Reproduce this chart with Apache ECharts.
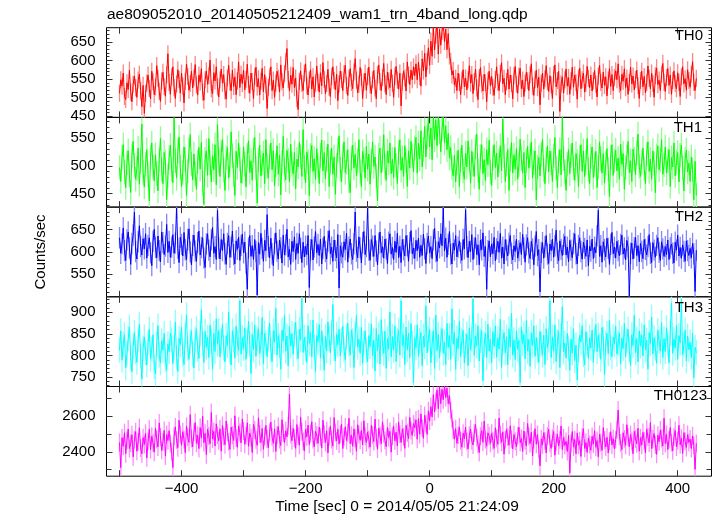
<!DOCTYPE html>
<html><head><meta charset="utf-8">
<script src="https://cdn.jsdelivr.net/npm/echarts@6/dist/echarts.min.js"></script>
<style>html,body{margin:0;padding:0;background:#fff}#c{width:717px;height:516px}</style>
</head><body><div id="c"></div>
<script>
// time bins: start and width (sec)
const binStart = -500, binWidth = 2;
const bandNames = ['TH0','TH1','TH2','TH3','TH0123'];
const title = 'ae809052010_20140505212409_wam1_trn_4band_long.qdp';
const xTitle = 'Time [sec] 0 = 2014/05/05 21:24:09';
const yTitle = 'Counts/sec';

const th0 = [
512,548,531,566,503,495,540,522,574,515,489,536,558,527,501,547,563,519,476,533,
458,512,539,561,525,497,571,543,508,529,586,552,517,490,545,568,530,504,562,618,
541,509,556,583,527,498,537,575,549,512,566,531,486,544,590,557,520,538,571,526,
553,589,534,507,561,542,578,515,493,548,572,536,559,601,524,511,567,545,583,529,
502,548,577,539,562,518,496,553,587,541,519,574,530,556,508,545,596,527,563,538,
574,521,549,590,535,512,566,543,498,557,582,529,551,507,544,579,516,562,534,471,
528,556,583,519,547,501,539,571,552,515,588,543,526,564,597,632,549,518,560,536,
581,527,553,497,468,544,572,538,519,566,591,532,507,548,575,523,556,502,539,585,
541,515,567,532,594,549,511,538,576,528,503,557,583,546,521,563,492,537,572,548,
519,564,587,533,506,552,578,541,524,569,605,547,513,536,581,555,498,542,566,520,
557,582,534,511,548,573,526,497,562,588,543,519,554,592,537,508,569,545,527,576,
539,501,558,584,547,523,566,478,542,571,553,518,596,561,535,574,548,583,559,591,
548,596,557,531,604,572,619,556,598,634,587,652,611,690,628,668,702,617,684,641,
678,702,651,684,629,672,612,598,561,573,534,552,519,566,541,508,547,575,529,553,
521,548,586,539,562,511,543,577,526,495,554,581,537,518,563,540,489,545,571,532,
557,528,506,549,583,541,519,565,594,537,552,508,543,576,523,561,538,497,559,584,
536,512,558,579,524,547,503,539,568,545,519,562,591,531,506,548,574,527,555,481,
539,566,523,551,586,542,517,559,534,498,563,588,529,546,571,463,537,556,512,548,
577,531,554,509,545,582,528,561,540,496,553,579,524,548,566,515,539,584,552,527,
561,518,545,573,536,502,558,587,541,526,569,533,556,505,547,578,530,562,519,554,
572,548,591,536,519,563,544,578,527,553,509,541,582,537,558,521,549,574,532,498,
546,571,529,557,513,540,585,552,524,566,538,501,559,580,535,547,519,563,592,541,
517,554,578,533,561,509,546,572,538,524,567,541,503,556,583,537,551,520,575,546,
528,563,597,541,519,552];

const th1 = [
497,472,515,538,489,461,506,527,483,452,518,544,501,476,495,532,467,509,575,488,
462,503,529,484,437,516,541,498,473,520,486,455,511,549,493,468,524,507,439,482,
515,537,494,470,586,509,478,526,552,497,463,488,534,512,447,491,528,556,503,475,
521,486,458,507,533,494,542,469,431,512,527,483,549,505,471,518,493,538,466,574,
509,481,524,547,492,456,515,533,478,502,561,518,484,447,526,497,541,512,469,490,
534,503,462,519,545,488,509,474,528,551,496,433,511,537,482,505,523,468,547,499,
478,516,541,493,527,464,502,536,485,519,448,506,553,492,475,528,510,471,539,503,
486,524,459,512,498,542,517,481,565,497,470,525,508,446,519,537,490,513,476,531,
502,468,519,546,491,524,477,512,539,463,507,532,485,516,449,501,528,554,494,472,
517,543,488,506,529,473,452,514,537,496,521,482,509,547,490,463,526,511,478,535,
494,521,467,508,543,499,516,482,437,519,532,487,511,556,498,474,527,505,541,486,
512,479,533,501,468,524,547,492,515,481,536,509,463,527,496,544,518,489,532,551,
487,541,512,563,498,529,571,516,552,585,534,568,511,590,547,583,536,590,561,525,
566,587,541,572,529,558,514,533,497,482,519,471,505,528,463,510,537,491,476,523,
498,545,512,469,526,503,481,534,557,492,458,517,538,486,511,474,529,502,546,489,
465,514,538,497,523,480,509,536,491,584,518,472,503,529,456,511,542,487,520,494,
531,476,502,548,513,487,524,461,509,535,496,519,543,478,506,527,439,498,515,482,
521,547,493,468,512,536,489,527,505,472,518,551,496,461,508,529,484,587,513,490,
456,503,529,486,518,541,497,474,522,508,463,515,538,490,527,481,506,549,493,468,
517,534,479,502,526,461,498,543,513,487,522,469,505,531,494,445,516,538,483,509,
528,491,514,476,539,503,522,458,497,516,544,488,509,472,530,512,484,523,557,499,
481,507,532,495,468,521,543,490,512,476,527,504,452,518,536,493,511,547,485,502,
534,487,509,529,463,515,498,541,482,506,524,471,519,537,496,455,512,528,489,505,
472,516,493,439,508,447];

const th2 = [
632,597,618,654,603,581,627,645,609,572,619,638,690,601,584,623,659,612,593,630,
607,641,586,615,632,598,569,624,651,610,587,636,603,578,645,621,594,613,662,599,
624,588,611,639,597,620,699,608,576,633,617,591,644,605,583,628,652,600,571,615,
638,602,579,621,647,593,610,632,586,565,618,641,604,589,627,655,597,612,583,694,
609,584,628,603,641,596,572,619,637,588,611,647,594,573,625,606,633,581,615,640,
598,622,575,516,609,637,590,614,583,628,601,503,621,595,642,608,579,626,603,684,
612,587,631,596,569,618,643,602,584,627,609,575,638,593,616,651,589,606,572,624,
601,634,583,619,597,641,608,576,622,589,613,594,637,520,605,628,582,611,646,598,
617,592,629,573,608,635,601,584,624,648,596,611,579,627,603,587,639,519,614,598,
588,623,605,642,577,611,629,596,583,618,690,602,587,634,609,575,621,646,594,612,
699,604,581,628,613,590,637,602,571,619,645,598,612,586,629,607,574,622,641,595,
610,583,624,599,642,587,613,576,628,605,591,637,614,579,621,648,596,609,585,626,
603,631,588,615,592,640,607,574,619,636,598,612,585,627,653,601,579,623,609,641,
614,699,602,631,588,617,646,595,573,620,604,637,589,611,625,598,581,628,607,695,
612,587,624,601,639,583,609,632,594,616,571,627,605,643,590,612,516,603,625,589,
618,596,633,580,607,624,599,642,586,611,573,628,604,591,619,637,597,582,614,601,
629,586,603,621,594,640,609,577,616,632,598,585,624,607,571,613,646,592,605,510,
599,621,586,612,637,595,574,618,603,629,588,614,649,597,580,625,606,592,617,635,
593,611,578,626,604,587,619,641,596,573,615,632,601,584,622,608,590,627,569,613,
602,629,585,611,598,636,694,590,614,577,623,605,589,631,608,572,617,644,596,611,
586,624,603,591,617,638,595,609,582,626,611,500,597,620,584,609,633,592,614,578,
619,601,585,628,606,593,612,639,597,576,621,604,588,615,632,599,581,623,607,590,
612,594,627,583,609,618,597,575,622,604,638,591,610,586,616,601,579,625,603,592,
608,587,619,596,511,604];

const th3 = [
812,857,789,826,848,771,804,839,866,795,762,821,853,808,784,836,872,799,745,817,
843,806,778,829,861,792,815,848,774,757,826,869,801,783,834,812,851,790,766,827,
809,852,835,781,818,877,796,763,840,825,866,803,779,847,894,816,791,832,857,804,
771,838,862,815,793,849,906,827,784,856,819,842,795,870,833,768,851,809,885,826,
858,797,834,872,818,785,846,823,901,809,778,857,836,794,868,829,812,927,803,841,
816,864,791,833,880,826,758,849,813,871,798,839,862,805,824,888,781,852,829,797,
838,875,812,786,857,831,909,801,846,823,768,859,834,893,810,845,776,867,822,851,
803,848,877,819,792,861,836,932,807,842,815,784,869,828,853,797,882,820,763,846,
831,872,794,857,822,766,844,811,878,839,806,853,918,817,787,849,825,861,799,836,
868,813,790,842,875,826,801,859,834,772,848,893,819,838,805,866,782,829,857,812,
785,846,821,873,799,835,764,862,811,848,780,883,827,805,856,770,839,815,901,797,
844,812,869,786,835,858,801,927,823,847,779,866,813,852,795,874,829,737,841,818,
871,798,834,853,776,845,820,915,806,839,861,783,828,857,770,893,812,848,794,836,
862,805,831,779,874,819,846,791,908,827,853,768,840,816,879,797,835,858,782,823,
849,776,864,813,838,931,800,845,822,869,787,834,858,741,826,851,795,872,810,837,
783,855,821,868,796,840,815,884,772,831,853,806,843,778,862,819,898,801,836,790,
857,814,835,737,866,828,849,792,881,810,837,775,853,822,869,798,841,812,784,856,
826,801,847,779,862,818,836,927,795,843,810,871,786,832,856,772,845,913,808,829,
794,851,817,766,838,805,862,788,824,743,812,847,831,869,802,778,855,826,793,841,
817,859,784,836,872,809,847,823,791,865,838,756,829,851,804,882,818,797,843,826,
868,803,829,852,781,840,816,874,797,835,861,812,776,848,823,893,806,839,785,857,
822,847,799,871,814,835,768,853,828,889,804,841,817,782,858,833,810,876,795,839,
809,864,826,783,851,922,805,838,817,870,791,846,829,931,802,824,859,787,845,813,
831,795,852,748,819,806];

const th0123 = [
2452,2312,2478,2431,2506,2389,2463,2527,2418,2447,2495,2372,2468,2512,2403,2456,2534,2421,2389,2479,
2441,2503,2366,2458,2526,2412,2487,2449,2398,2532,2470,2427,2561,2483,2408,2455,2519,2376,2496,2462,
2518,2446,2401,2312,2487,2539,2465,2423,2576,2498,2437,2512,2469,2395,2543,2481,2452,2607,2474,2428,
2509,2563,2447,2492,2418,2535,2476,2598,2451,2503,2384,2527,2488,2445,2619,2471,2514,2432,2556,2493,
2462,2528,2403,2547,2485,2439,2572,2507,2456,2414,2538,2492,2463,2601,2477,2425,2544,2508,2449,2583,
2516,2442,2489,2562,2431,2505,2478,2396,2553,2521,2467,2436,2589,2498,2452,2530,2414,2485,2547,2471,
2423,2509,2566,2482,2447,2528,2402,2493,2541,2468,2435,2579,2504,2451,2517,2483,2544,2722,2498,2462,
2531,2476,2419,2552,2488,2437,2593,2511,2458,2404,2526,2483,2549,2441,2502,2568,2469,2427,2515,2492,
2447,2538,2483,2421,2576,2499,2452,2517,2394,2486,2543,2468,2432,2591,2507,2461,2526,2443,2498,2554,
2418,2482,2539,2463,2505,2587,2446,2492,2431,2528,2476,2403,2551,2497,2464,2519,2438,2573,2485,2452,
2511,2469,2426,2548,2493,2457,2582,2478,2415,2532,2489,2446,2567,2501,2463,2428,2536,2479,2514,2398,
2487,2543,2461,2509,2432,2565,2497,2452,2528,2483,2419,2547,2506,2474,2592,2518,2491,2557,2535,2578,
2470,2585,2498,2611,2532,2476,2603,2558,2497,2629,2571,2652,2594,2718,2623,2681,2745,2640,2762,2668,
2748,2690,2770,2702,2755,2668,2712,2631,2584,2520,2471,2529,2447,2493,2538,2462,2425,2504,2472,2537,
2458,2416,2493,2527,2461,2438,2505,2552,2479,2442,2396,2487,2518,2453,2571,2469,2431,2506,2488,2447,
2503,2462,2419,2534,2476,2441,2588,2495,2453,2511,2387,2468,2524,2482,2437,2545,2470,2416,2497,2459,
2428,2489,2537,2451,2474,2402,2516,2463,2432,2558,2485,2446,2509,2377,2468,2529,2442,2496,2414,2322,
2472,2438,2507,2461,2393,2488,2525,2447,2419,2476,2513,2381,2454,2498,2433,2467,2544,2412,2479,2436,
2458,2402,2491,2282,2447,2513,2426,2468,2389,2505,2437,2462,2374,2483,2528,2419,2452,2396,2477,2441,
2409,2486,2443,2518,2425,2463,2372,2497,2451,2408,2535,2466,2427,2481,2393,2459,2512,2438,2474,2417,
2468,2523,2633,2487,2449,2412,2506,2472,2436,2551,2483,2428,2496,2457,2389,2514,2471,2445,2532,2403,
2479,2437,2508,2461,2395,2526,2482,2449,2563,2417,2471,2502,2438,2386,2493,2456,2521,2474,2432,2587,
2446,2497,2412,2468,2535,2451,2405,2483,2519,2427,2462,2548,2439,2476,2391,2507,2458,2424,2496,2452,
2471,2418,2489,2436,2302,2447];

// approximate error-bar half length per band
const errors = [23, 22, 24, 29, 50];

// axis ranges and tick values
const xRange = [-521, 454.5];
const xTickValues = [-500,-400,-300,-200,-100,0,100,200,300,400];
const xLabelValues = [-400,-200,0,200,400];
const yRanges = [[447,688],[426,587],[499,701],[728,936],[2264,2764]];
const yLabelValues = [[450,500,550,600,650],[450,500,550],[550,600,650],[750,800,850,900],[2400,2600]];
const yMinorStep = [10,10,10,10,100];

const bands = [th0, th1, th2, th3, th0123];
const colors = ['#ff0000','#00ff00','#0000ff','#00ffff','#ff00ff'];
const lights = ['#ff8585','#8cff8c','#8585ff','#8cffff','#ff8cff'];
const FONT = '"Liberation Sans", Arial, Helvetica, sans-serif';

const gridTop = 27.7, gridH = 89.7, gridLeft = 106.5, gridW = 605;
const labelY = [36, 127.7, 216.7, 307.5, 396.3];
const labelRight = [703, 702, 703, 703, 707];

const grids = [], xAxes = [], yAxes = [], series = [], graphics = [];
for (let i = 0; i < 5; i++) {
  grids.push({left: gridLeft, width: gridW, top: gridTop + i * gridH, height: gridH,
    show: true, borderColor: '#000', borderWidth: 1, backgroundColor: 'transparent', outerBoundsMode: 'none'});
  ['bottom', 'top'].forEach(pos => {
    xAxes.push({type: 'value', gridIndex: i, position: pos, min: xRange[0], max: xRange[1],
      axisLine: {show: false, onZero: false}, splitLine: {show: false},
      axisTick: {show: true, inside: true, length: 6, customValues: xTickValues, lineStyle: {color: '#333', width: 1}},
      axisLabel: {show: i === 4 && pos === 'bottom', customValues: xLabelValues,
        formatter: v => String(v).replace('-', '\u2212'),
        fontFamily: FONT, fontSize: 15, color: '#000', margin: 5}});
  });
  const [lo, hi] = yRanges[i];
  const minor = [];
  for (let v = Math.ceil(lo / yMinorStep[i]) * yMinorStep[i]; v <= hi; v += yMinorStep[i]) minor.push(v);
  const majorLen = 6, minorLen = i === 4 ? 5 : 3;
  ['left', 'right'].forEach(pos => {
    yAxes.push({type: 'value', gridIndex: i, position: pos, min: lo, max: hi,
      axisLine: {show: false, onZero: false}, splitLine: {show: false},
      axisTick: {show: true, inside: true, length: majorLen, customValues: yLabelValues[i], lineStyle: {color: '#333', width: 1}},
      axisLabel: {show: pos === 'left', customValues: yLabelValues[i], formatter: v => String(v),
        fontFamily: FONT, fontSize: 15, color: '#000', margin: 11}});
    yAxes.push({type: 'value', gridIndex: i, position: pos, min: lo, max: hi,
      axisLine: {show: false, onZero: false}, splitLine: {show: false},
      axisTick: {show: true, inside: true, length: minorLen, customValues: minor, lineStyle: {color: '#333', width: 1}},
      axisLabel: {show: false}});
  });
  const data = bands[i].map((v, j) => [binStart + j * binWidth, v]);
  const err = errors[i], light = lights[i];
  series.push({type: 'custom', xAxisIndex: 2 * i, yAxisIndex: 4 * i, data: data, clip: true, silent: true, z: 2,
    encode: {x: 0, y: 1},
    renderItem: (params, api) => {
      const x = api.value(0), y = api.value(1);
      const a = api.coord([x, y - err]), b = api.coord([x, y + err]);
      return {type: 'line', shape: {x1: a[0], y1: a[1], x2: b[0], y2: b[1]}, style: {stroke: light, lineWidth: 1.3}};
    }});
  series.push({type: 'line', xAxisIndex: 2 * i, yAxisIndex: 4 * i, data: data, showSymbol: false, symbol: 'none',
    clip: true, silent: true, z: 3, lineStyle: {color: colors[i], width: 1}});
  graphics.push({type: 'text', x: labelRight[i], y: labelY[i],
    style: {text: bandNames[i], font: '15px ' + FONT, fill: '#000', align: 'right', verticalAlign: 'middle'}, z: 100});
}
graphics.push({type: 'text', x: 107, y: 14.8, style: {text: title, font: '15.5px ' + FONT, fill: '#000', align: 'left', verticalAlign: 'middle'}});
graphics.push({type: 'text', x: 397, y: 506.8, style: {text: xTitle, font: '15.5px ' + FONT, fill: '#000', align: 'center', verticalAlign: 'middle'}});
graphics.push({type: 'text', x: 41, y: 252, rotation: Math.PI / 2, style: {text: yTitle, font: '15px ' + FONT, fill: '#000', align: 'center', verticalAlign: 'middle'}});

const chart = echarts.init(document.getElementById('c'), null, {renderer: 'canvas'});
chart.setOption({animation: false, backgroundColor: '#fff', grid: grids, xAxis: xAxes, yAxis: yAxes, series: series, graphic: graphics});
</script></body></html>
